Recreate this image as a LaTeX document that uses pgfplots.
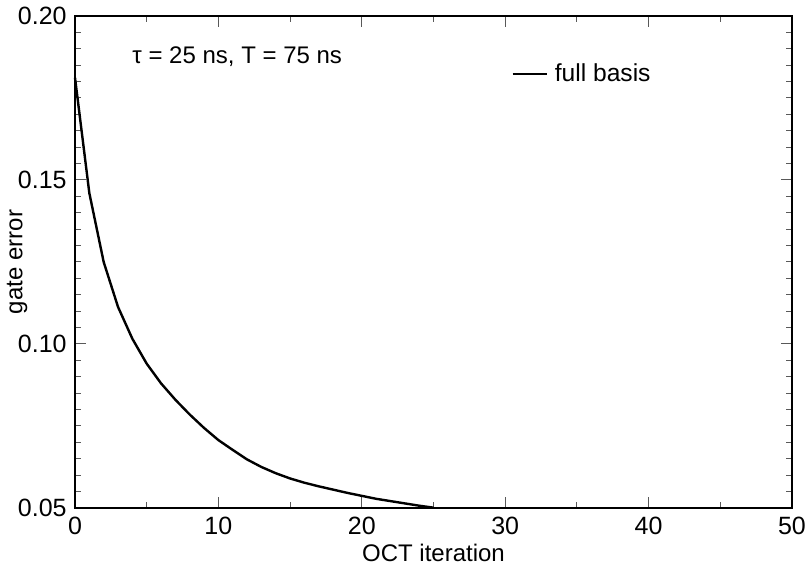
\documentclass[border=0pt]{standalone}
\usepackage{fontspec}
\setmainfont{Liberation Sans}
\usepackage{pgfplots}
\pgfplotsset{compat=1.18}
\begin{document}
\fontsize{12}{14}\selectfont
\begin{tikzpicture}
\begin{axis}[
  scale only axis,
  width=358.5pt, height=246pt,
  xmin=0, xmax=50, ymin=0.05, ymax=0.20,
  xtick={0,10,...,50},
  ytick={0.05,0.10,0.15,0.20},
  minor xtick={5,15,...,45},
  minor ytick={0.055,0.06,...,0.1951},
  yticklabel style={/pgf/number format/.cd, fixed, fixed zerofill, precision=2},
  /pgf/number format/assume math mode=true,
  tick align=inside,
  major tick length=5.5pt,
  minor tick length=3pt,
  every tick/.style={black!65, line width=0.5pt},
  axis line style={line width=0.6pt},
  xlabel={OCT iteration},
  ylabel={gate error},
  every axis x label/.style={at={([yshift=-22.5pt]rel axis cs:0.5,0)}, anchor=center},
  every axis y label/.style={at={([xshift=-29pt]rel axis cs:0,0.5)}, anchor=center, rotate=90},
  xticklabel style={yshift=-0.5pt},
  tick label style={font=\fontsize{12.5}{14}\selectfont},
  label style={font=\fontsize{12}{14}\selectfont},
  legend style={draw=none, fill=none, at={(rel axis cs:0.608,0.882)}, anchor=west, inner sep=0pt,
    font=\fontsize{12.3}{14}\selectfont, nodes={inner sep=3.5pt}},
  legend cell align=left,
  clip=false,
]
\addplot[black, line width=1.2pt] coordinates {
(0,0.1812) (1,0.1460) (2,0.1250) (3,0.1113) (4,0.1016) (5,0.0940)
(6,0.0880) (7,0.0830) (8,0.0785) (9,0.0744) (10,0.0707) (11,0.0677)
(12,0.0648) (13,0.0625) (14,0.0606) (15,0.0590) (16,0.0577) (17,0.0566)
(18,0.0556) (19,0.0546) (20,0.0537) (21,0.0528) (22,0.0521) (23,0.0514)
(24,0.0507) (25,0.0501)
};
\addlegendentry{full basis}
\node[anchor=west, inner sep=0pt, font=\fontsize{12}{14}\selectfont] at (rel axis cs:0.0795,0.917) {τ = 25 ns, T = 75 ns};
\end{axis}
\pgfresetboundingbox
\path (-37.5pt,-28.5pt) rectangle (367pt,254pt);
\end{tikzpicture}
\end{document}
